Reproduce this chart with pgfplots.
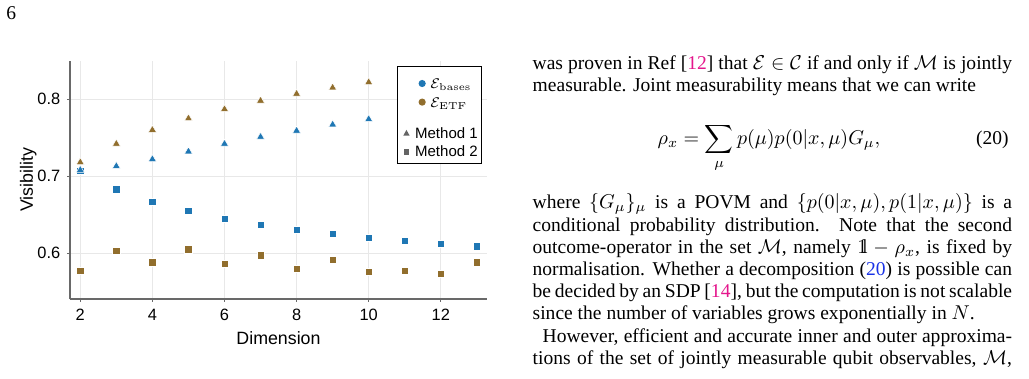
\documentclass[border=0pt]{standalone}
\usepackage[no-math]{fontspec}
\setmainfont{Liberation Serif}
\setsansfont{Liberation Sans}
\usepackage{amsmath}
\usepackage{pgfplots}
\usepackage{pgfplotstable}
\pgfplotsset{compat=1.18}

\definecolor{ebases}{RGB}{31,119,180}
\definecolor{eetf}{RGB}{145,110,45}
\definecolor{citepink}{RGB}{228,22,140}
\definecolor{eqblue}{RGB}{25,50,230}
\definecolor{spine}{RGB}{105,105,105}
\definecolor{legendgray}{RGB}{100,100,100}

\newcommand\bodyfont{\fontsize{9.77pt}{11.1pt}\selectfont}
\newcommand\jline[1]{\makebox[239.7pt][s]{#1}}
% identity operator, double-struck one
\newcommand\one{\mathrm{1}\kern-0.27em\mathrm{l}}

% Visibility against dimension, method 1 (d = 2..10)
\pgfplotstableread{
d   bases  etf
2   0.708  0.718
3   0.713  0.742
4   0.722  0.760
5   0.732  0.775
6   0.742  0.787
7   0.751  0.798
8   0.759  0.807
9   0.767  0.815
10  0.774  0.822
}\methodone

% Visibility against dimension, method 2 (d = 2..13)
\pgfplotstableread{
d   bases  etf
2   0.707  0.577
3   0.683  0.603
4   0.667  0.588
5   0.655  0.605
6   0.645  0.586
7   0.637  0.597
8   0.630  0.580
9   0.625  0.591
10  0.620  0.576
11  0.616  0.577
12  0.612  0.573
13  0.609  0.588
}\methodtwo

\begin{document}
\begin{tikzpicture}
\path[use as bounding box] (0pt,0pt) rectangle (514.5pt,-189.5pt);

% page number
\node[anchor=base west, inner sep=0pt, font=\bodyfont] at (3pt,-10pt) {6};

\begin{axis}[
  at={(34.85pt,-149.65pt)}, anchor=south west,
  scale only axis, width=208.8pt, height=119.3pt,
  xmin=1.706, xmax=13.29, ymin=0.540, ymax=0.850,
  axis x line*=bottom, axis y line*=left,
  axis line style={spine, line width=0.8pt, -},
  xtick={2,4,...,12}, ytick={0.6,0.7,0.8},
  yticklabel style={/pgf/number format/.cd, fixed, precision=1},
  tick align=outside, major tick length=1.2pt,
  tick style={spine, line width=0.5pt},
  grid=major, major grid style={black!9, line width=0.5pt},
  ticklabel style={font=\sffamily\fontsize{8.2pt}{9pt}\selectfont},
  /pgf/number format/assume math mode=true,
  xlabel={Dimension}, ylabel={Visibility},
  label style={font=\sffamily\fontsize{8.9pt}{10pt}\selectfont},
  xlabel style={at={(axis description cs:0.5,-0.1899)}, anchor=base},
  ylabel style={at={(axis description cs:-0.0879,0.5)}, anchor=base},
  legend style={at={(axis description cs:1,1)}, anchor=north east,
    xshift=-2.5pt, yshift=-2.65pt, draw=black, line width=0.6pt,
    inner xsep=0pt, inner ysep=1.7pt, row sep=2.1pt, column sep=1.5pt,
    font=\sffamily\fontsize{7.5pt}{9pt}\selectfont,
    nodes={inner sep=0pt}, cells={anchor=base west}},
]
% method 2: squares
\addplot[only marks, mark=square*, mark size=1.85pt,
  mark options={fill=ebases, draw=white, line width=0.25pt}, forget plot]
  table[x=d, y=bases] {\methodtwo};
\addplot[only marks, mark=square*, mark size=1.85pt,
  mark options={fill=eetf, draw=white, line width=0.25pt}, forget plot]
  table[x=d, y=etf] {\methodtwo};
% method 1: triangles
\addplot[only marks, mark=triangle*, mark size=2.3pt,
  mark options={fill=ebases, draw=white, line width=0.25pt}, forget plot]
  table[x=d, y=bases] {\methodone};
\addplot[only marks, mark=triangle*, mark size=2.3pt,
  mark options={fill=eetf, draw=white, line width=0.25pt}, forget plot]
  table[x=d, y=etf] {\methodone};

% legend: colour stands for the set, shape for the method
\addlegendimage{legend image code/.code={%
  \path[use as bounding box, draw=none, fill=none] (0pt,-1.6pt) rectangle (7.2pt,9.35pt);
  \fill[ebases, draw=none] (12.2pt,2.6pt) circle (1.8pt);}}
\addlegendentry{\hspace*{7.65pt}$\mathcal{E}_{\rm bases}$}
\addlegendimage{legend image code/.code={%
  \path[use as bounding box, draw=none, fill=none] (0pt,-7.8pt) rectangle (7.2pt,5.6pt);
  \fill[eetf, draw=none] (12.2pt,2.6pt) circle (1.8pt);}}
\addlegendentry{\hspace*{7.65pt}$\mathcal{E}_{\rm ETF}$}
\addlegendimage{legend image code/.code={%
  \path[use as bounding box, draw=none, fill=none] (0pt,-1.6pt) rectangle (7.2pt,5.6pt);
  \fill[legendgray, draw=none] (4.35pt,4.2pt) -- (2.8pt,1.4pt) -- (5.9pt,1.4pt) -- cycle;}}
\addlegendentry{Method 1\hspace*{2pt}}
\addlegendimage{legend image code/.code={%
  \path[use as bounding box, draw=none, fill=none] (0pt,-1.6pt) rectangle (7.2pt,5.6pt);
  \fill[legendgray, draw=none] (2.95pt,1.2pt) rectangle (5.75pt,4.0pt);}}
\addlegendentry{Method 2\hspace*{2pt}}
\end{axis}

% text column
\begin{scope}[every node/.style={anchor=base west, inner sep=0pt, font=\bodyfont}]
\node at (266.15pt,-34.75pt) {\jline{was proven in Ref [\textcolor{citepink}{12}] that $\mathcal{E}\in\mathcal{C}$ if and only if $\mathcal{M}$ is jointly}};
\node at (266.15pt,-45.85pt) {measurable. Joint measurability means that we can write};

\node[anchor=base] at (384.5pt,-72.25pt) {$\displaystyle \rho_x=\sum_{\mu}p(\mu)p(0|x,\mu)G_\mu,$};
\node[anchor=base east] at (504.5pt,-72.25pt) {(20)};

\node at (266.15pt,-104.5pt) {\jline{where $\{G_\mu\}_\mu$ is a POVM and $\{p(0|x,\mu),p(1|x,\mu)\}$ is a}};
\node at (266.15pt,-115.6pt) {\jline{conditional probability distribution. Note that the second}};
\node at (266.15pt,-126.7pt) {\jline{outcome-operator in the set $\mathcal{M}$, namely $\one-\rho_x$, is fixed by}};
\node at (266.15pt,-137.8pt) {\jline{normalisation. Whether a decomposition (\textcolor{eqblue}{20}) is possible can}};
\node at (266.15pt,-148.9pt) {\jline{be decided by an SDP [\textcolor{citepink}{14}], but the computation is not scalable}};
\node at (266.15pt,-160.0pt) {since the number of variables grows exponentially in $N$.};
\node at (271.15pt,-171.1pt) {\makebox[234.7pt][s]{However, efficient and accurate inner and outer approxima-}};
\node at (266.15pt,-182.2pt) {\jline{tions of the set of jointly measurable qubit observables, $\mathcal{M}$,}};
\end{scope}
\end{tikzpicture}
\end{document}
